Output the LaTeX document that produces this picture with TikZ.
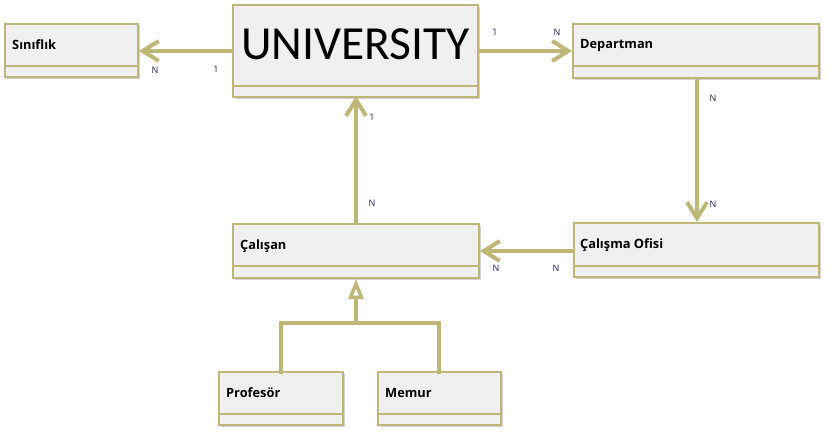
\documentclass[tikz,border=0pt]{standalone}
\usepackage{fontspec}
\setmainfont{Open Sans}
\newfontfamily\calfont{Carlito}
\usetikzlibrary{arrows.meta,shadows}
\definecolor{khaki}{RGB}{190,183,120}
\definecolor{boxfill}{RGB}{240,240,240}
\definecolor{lbl}{RGB}{30,30,80}
\tikzset{
  cls/.style={draw=khaki, line width=1.6pt, fill=boxfill,
    drop shadow={shadow xshift=1.5pt, shadow yshift=-2pt, opacity=0.35, fill=gray}},
  divl/.style={draw=khaki, line width=1.6pt},
  conn/.style={draw=khaki, line width=4pt},
  opena/.style={-{Straight Barb[length=16pt,width=20pt,line width=4pt]}},
  gena/.style={-{Triangle[open,length=20pt,width=15pt,line width=3.5pt,fill=white]}},
  card/.style={font=\fontsize{9}{10}\selectfont, text=lbl, inner sep=0pt},
  ctext/.style={font=\bfseries\fontsize{12.8}{15}\selectfont, anchor=west, inner sep=0pt},
}
\begin{document}
\begin{tikzpicture}[x=1pt,y=-1pt]
\useasboundingbox (0,0) rectangle (829,433);
% boxes
\path[cls] (5,24) rectangle (138,77);
\draw[divl] (5,66) -- (138,66);
\node[ctext] (sinif) at (12,45) {Sınıflık};

\path[cls] (233,5) rectangle (478,97);
\draw[divl] (233,86) -- (478,86);
\node[font=\calfont\fontsize{47.5}{48}\selectfont, inner sep=0pt] (univ) at (355.5,44) {UNIVERSITY};

\path[cls] (573,24) rectangle (819,78);
\draw[divl] (573,66) -- (819,66);
\node[ctext] (dept) at (580,45) {Departman};

\path[cls] (574,223) rectangle (819,277);
\draw[divl] (574,266) -- (819,266);
\node[ctext] (ofis) at (580,245) {Çalışma Ofisi};

\path[cls] (233,224) rectangle (479,278);
\draw[divl] (233,266) -- (479,266);
\node[ctext] (calisan) at (240,246) {Çalışan};

\path[cls] (219,372) rectangle (343,425);
\draw[divl] (219,414) -- (343,414);
\node[ctext] (prof) at (226,393) {Profesör};

\path[cls] (378,372) rectangle (501,425);
\draw[divl] (378,414) -- (501,414);
\node[ctext] (memur) at (385,393) {Memur};

% anchor coordinates
\coordinate (uL) at (233,51);
\coordinate (sR) at (139,51);
\coordinate (uR) at (478,51);
\coordinate (dL) at (572,51);
\coordinate (dB) at (697,78);
\coordinate (oT) at (697,222);
\coordinate (oL) at (574,251);
\coordinate (cR) at (480,251);
\coordinate (cT) at (356,224);
\coordinate (uB) at (356,96);
\coordinate (cB) at (356,279);
\coordinate (j) at (356,323);
\coordinate (pT) at (281,372);
\coordinate (mT) at (439,372);

% connectors
\draw[conn,opena] (uL) -- (sR);
\draw[conn,opena] (uR) -- (dL);
\draw[conn,opena] (dB) -- (oT);
\draw[conn,opena] (oL) -- (cR);
\draw[conn,opena] (cT) -- (uB);
\draw[conn,line cap=rect] (pT) |- (j) -| (mT);
\draw[conn,gena] (j) -- (cB);

% cardinality labels
\node[card] at (155,70) {N};
\node[card] at (216,69) {1};
\node[card] at (495,32) {1};
\node[card] at (557,32) {N};
\node[card] at (713,98) {N};
\node[card] at (713,204) {N};
\node[card] at (372,117) {1};
\node[card] at (372,203) {N};
\node[card] at (496,268) {N};
\node[card] at (556,268) {N};
\end{tikzpicture}
\end{document}
